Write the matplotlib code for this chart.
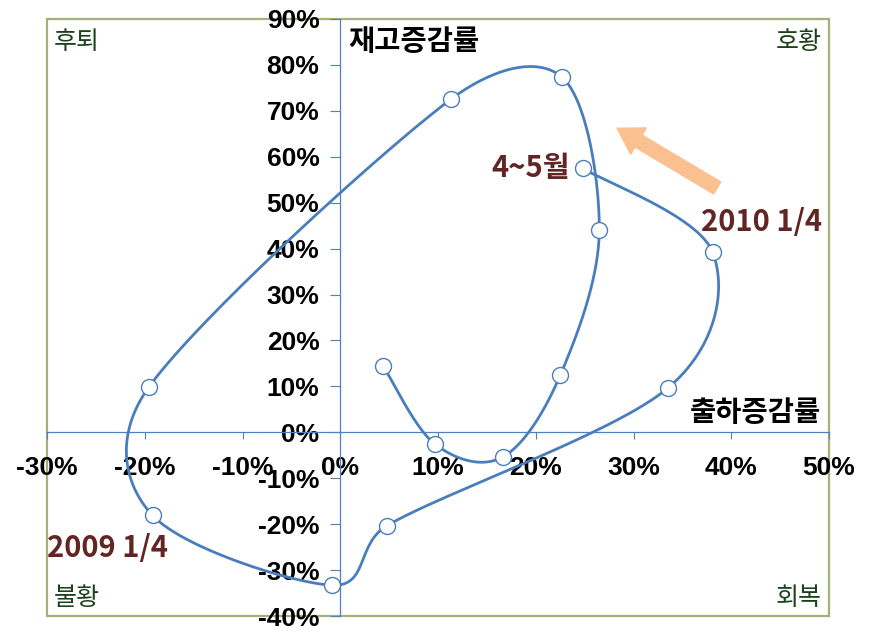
import numpy as np
import matplotlib
matplotlib.use('Agg')
import matplotlib.pyplot as plt
from matplotlib.patches import Rectangle
from matplotlib.ticker import FixedLocator, FuncFormatter

plt.rcParams['font.family'] = ['Liberation Sans', 'Noto Sans CJK KR', 'DejaVu Sans']

# Data: shipment growth (x, %) and inventory growth (y, %), 2007 Q1 ... 2010 4~5월
periods = ['2007 1/4', '2007 2/4', '2007 3/4', '2007 4/4',
           '2008 1/4', '2008 2/4', '2008 3/4', '2008 4/4',
           '2009 1/4', '2009 2/4', '2009 3/4', '2009 4/4',
           '2010 1/4', '4~5월']
shipment = [4.4, 9.7, 16.6, 22.5, 26.5, 22.7, 11.3, -19.6, -19.2, -0.8, 4.8, 33.5, 38.1, 24.8]
inventory = [14.4, -2.6, -5.4, 12.4, 44.0, 77.3, 72.5, 9.8, -18.1, -33.3, -20.3, 9.6, 39.2, 57.5]

x_ticks = [-30, -20, -10, 0, 10, 20, 30, 40, 50]
y_ticks = [-40, -30, -20, -10, 0, 10, 20, 30, 40, 50, 60, 70, 80, 90]

labelled = {'2009 1/4': (-45, -33, 'center'), '2010 1/4': (49, 30, 'center'), '4~5월': (-13, 0, 'right')}

fig = plt.figure(figsize=(8.73, 6.40), dpi=100)
ax = fig.add_axes([47 / 873, 24 / 640, 782 / 873, 597 / 640])
ax.set_xlim(x_ticks[0], x_ticks[-1])
ax.set_ylim(y_ticks[0], y_ticks[-1])

# smoothed line (Bezier through points) computed in pixel space
ax_w = 782.0
ax_h = 597.0
sx = ax_w / (x_ticks[-1] - x_ticks[0])
sy = ax_h / (y_ticks[-1] - y_ticks[0])
P = np.column_stack([np.array(shipment) * sx, np.array(inventory) * sy])
Pext = np.vstack([P[0], P, P[-1]])
curve = []
t = np.linspace(0, 1, 60)[:, None]
for i in range(len(P) - 1):
    p0, p1, p2, p3 = Pext[i], Pext[i + 1], Pext[i + 2], Pext[i + 3]
    L = np.linalg.norm(p2 - p1)
    t1 = (p2 - p0) / 6.0
    t2 = (p3 - p1) / 6.0
    n1 = np.linalg.norm(t1)
    n2 = np.linalg.norm(t2)
    if n1 > 0.45 * L:
        t1 = t1 / n1 * 0.45 * L
    if n2 > 0.45 * L:
        t2 = t2 / n2 * 0.45 * L
    c1 = p1 + t1
    c2 = p2 - t2
    seg = ((1 - t) ** 3) * p1 + 3 * ((1 - t) ** 2) * t * c1 + 3 * (1 - t) * t ** 2 * c2 + t ** 3 * p2
    curve.append(seg if i == 0 else seg[1:])
curve = np.vstack(curve)
ax.plot(curve[:, 0] / sx, curve[:, 1] / sy, color='#4A7EBB', lw=2.0, zorder=3, solid_capstyle='round')
ax.plot(shipment, inventory, ls='none', marker='o', ms=11.5, mfc='white', mec='#4A7EBB', mew=1.0, zorder=4)

# axes crossing at zero
for s in ['top', 'right']:
    ax.spines[s].set_visible(False)
ax.spines['left'].set_position(('data', 0))
ax.spines['bottom'].set_position(('data', 0))
ax.spines['left'].set_color('#4F81BD')
ax.spines['bottom'].set_color('#4F81BD')
ax.spines['left'].set_linewidth(0.9)
ax.spines['bottom'].set_linewidth(0.9)
ax.add_patch(Rectangle((0, 0), 1, 1, transform=ax.transAxes, fill=False,
                       edgecolor='#A4B07A', lw=1.6, zorder=1, clip_on=False))

ax.xaxis.set_major_locator(FixedLocator(x_ticks))
ax.yaxis.set_major_locator(FixedLocator(y_ticks))
pct = FuncFormatter(lambda v, p: f'{int(round(v))}%')
ax.xaxis.set_major_formatter(pct)
ax.yaxis.set_major_formatter(pct)
ax.tick_params(axis='x', direction='out', length=5, width=0.8, color='#4F81BD', pad=12,
               labelsize=19)
ax.tick_params(axis='y', direction='out', length=7, width=0.8, color='#4F81BD', pad=8,
               labelsize=19)
for lab in ax.get_xticklabels() + ax.get_yticklabels():
    lab.set_fontweight('bold')
    lab.set_family(['Liberation Sans', 'DejaVu Sans'])
ax.patch.set_alpha(0)

kfont = ['Noto Sans CJK KR', 'DejaVu Sans']
# axis titles
fig.text(348 / 873, 1 - 42 / 640, '재고증감률', ha='left', va='center', fontsize=20.5,
         fontweight='bold', family=kfont)
fig.text(821 / 873, 1 - 413 / 640, '출하증감률', ha='right', va='center', fontsize=20.5,
         fontweight='bold', family=kfont)

# quadrant labels
qc = '#1B431B'
fig.text(54 / 873, 1 - 42 / 640, '후퇴', ha='left', va='center', fontsize=18, color=qc, family=kfont)
fig.text(822 / 873, 1 - 42 / 640, '호황', ha='right', va='center', fontsize=18, color=qc, family=kfont)
fig.text(54 / 873, 1 - 598 / 640, '불황', ha='left', va='center', fontsize=18, color=qc, family=kfont)
fig.text(822 / 873, 1 - 598 / 640, '회복', ha='right', va='center', fontsize=18, color=qc, family=kfont)

# data labels
for name, xv, yv in zip(periods, shipment, inventory):
    if name in labelled:
        dx, dy, ha = labelled[name]
        ax.annotate(name, (xv, yv), xytext=(dx * 0.72, dy * 0.72), textcoords='offset points',
                    ha=ha, va='center', fontsize=21, fontweight='bold', color='#632523',
                    family=kfont, zorder=5)

# direction arrow
ax.annotate('', xy=(0.729, 0.817), xytext=(0.857, 0.717), xycoords='axes fraction',
            arrowprops=dict(arrowstyle='simple,head_length=0.9,head_width=1.1,tail_width=0.5',
                            color='#FAC090', mutation_scale=20, shrinkA=0, shrinkB=0))

fig.savefig('out.png', dpi=100, facecolor='white')
